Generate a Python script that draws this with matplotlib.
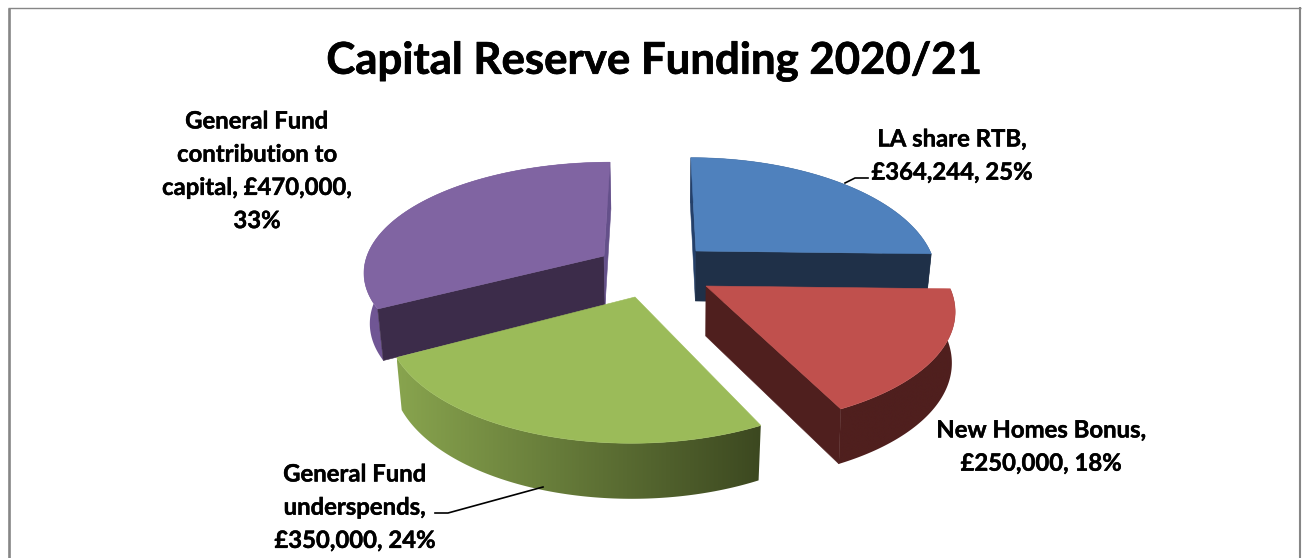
import numpy as np
import matplotlib
matplotlib.use("Agg")
import matplotlib.pyplot as plt
import matplotlib.patheffects as pe
from matplotlib.colors import LinearSegmentedColormap
from matplotlib.patches import Polygon

TITLE = "Capital Reserve Funding 2020/21"
categories = ["LA share RTB", "New Homes Bonus", "General Fund underspends",
              "General Fund contribution to capital"]
amounts = [364244, 250000, 350000, 470000]
percents = [25, 18, 24, 33]

W, H = 1306, 558
plt.rcParams["font.family"] = ["Lato", "DejaVu Sans"]
fig = plt.figure(figsize=(W / 100, H / 100), dpi=100, facecolor="white")
ax = fig.add_axes([0, 0, 1, 1])

# Perspective settings for the tilted disc
DEPTH = 50


def project(theta, s):
    """Map a disc angle (clockwise from the back) to the top surface."""
    w = 1 + s["tilt"] * np.cos(theta)
    x = s["vanish"] + (s["apex"][0] - s["vanish"] + s["rx"] * np.sin(theta)) / w
    y = s["apex"][1] - s["ry"] * np.cos(theta) / w
    return x, y


def drop(x, y, theta, s):
    """Lower a top-surface point to the bottom of the disc."""
    w = 1 + 0.5 * s["tilt"] * np.cos(theta)
    return s["vanish"] + (x - s["vanish"]) * (1 - s["squeeze"]), y + DEPTH / w


# Exploded-slice placement: colours and per-slice projection
slices = {
    "LA share RTB": dict(apex=(696, 251), vanish=665, rx=234, ry=112, tilt=0.2, squeeze=0.02,
                         top="#4f81bd", side=["#1f3048", "#1f3048"],
                         start_face="#24406a", end_face="#1f3048", z=2),
    "New Homes Bonus": dict(apex=(706, 286), vanish=680, rx=243, ry=112, tilt=0.2, squeeze=0.012,
                            top="#c0504d", side=["#4f1f1e", "#4f1f1e"],
                            start_face=None, end_face="#4f1f1e", z=3),
    "General Fund underspends": dict(apex=(635, 297), vanish=650, rx=243, ry=117, tilt=0.2,
                                     squeeze=0.02, top="#9bbb59", side=["#88a44e", "#3c4820"],
                                     start_face=None, end_face=None, z=4),
    "General Fund contribution to capital": dict(apex=(604, 256), vanish=656, rx=237, ry=106,
                                                 tilt=0.13, squeeze=0.02, top="#8064a2",
                                                 side=["#705694", "#705694"],
                                                 start_face="#3c2c4a", end_face="#64508a", z=1),
}

edges = np.concatenate([[0], np.cumsum(amounts)]) / np.sum(amounts) * 2 * np.pi

for name, start, end in zip(categories, edges[:-1], edges[1:]):
    s = slices[name]
    th = np.linspace(start, end, 200)
    x, y = project(th, s)
    xb, yb = drop(x, y, th, s)
    a0 = np.array(s["apex"], float)
    a0bx, a0by = drop(a0[0], a0[1], np.pi / 2, s)

    # outer rim: a horizontal colour ramp clipped to the rim outline
    cmap = LinearSegmentedColormap.from_list("rim", s["side"])
    ramp = np.linspace(0, 1, 256)[None, :]
    outline = np.column_stack([np.r_[x, xb[::-1]], np.r_[y, yb[::-1]]])
    xlo, xhi = outline[:, 0].min(), outline[:, 0].max()
    ylo, yhi = outline[:, 1].min(), outline[:, 1].max()
    im = ax.imshow(ramp, cmap=cmap, extent=(xlo, xhi, yhi, ylo), aspect="auto",
                   interpolation="bilinear", zorder=s["z"])
    im.set_clip_path(Polygon(outline, closed=True, transform=ax.transData))

    # straight cut faces
    if s["start_face"]:
        ax.add_patch(Polygon([(x[0], y[0]), (xb[0], yb[0]), (a0bx, a0by), a0], closed=True,
                             fc=s["start_face"], ec=s["start_face"], lw=0.4, zorder=s["z"] + 0.1))
    if s["end_face"]:
        ax.add_patch(Polygon([(x[-1], y[-1]), (xb[-1], yb[-1]), (a0bx, a0by), a0], closed=True,
                             fc=s["end_face"], ec=s["end_face"], lw=0.4, zorder=s["z"] + 0.1))

    # top surface
    ax.add_patch(Polygon(np.column_stack([np.r_[a0[0], x], np.r_[a0[1], y]]), closed=True,
                         fc=s["top"], ec=s["top"], lw=0.4, zorder=s["z"] + 0.5))

ax.set_xlim(0, W)
ax.set_ylim(H, 0)
ax.axis("off")

# Chart frame: open at the bottom edge
FRAME = "#868686"
ax.plot([9, 9], [H, 7.5], color=FRAME, lw=1.9, solid_capstyle="butt", zorder=0)
ax.plot([8, 1301], [7.5, 7.5], color=FRAME, lw=1.0, solid_capstyle="butt", zorder=0)
ax.plot([1300, 1300], [7, H], color=FRAME, lw=1.5, solid_capstyle="butt", zorder=0)

# A fine outline gives the lettering the heavier bold weight
heavy_title = [pe.withStroke(linewidth=0.5, foreground="black")]
heavy_label = [pe.withStroke(linewidth=0.3, foreground="black")]

ax.text(654, 61, TITLE, ha="center", va="center", fontsize=31.5, fontweight="bold",
        color="black", zorder=10, path_effects=heavy_title)


def money(v):
    return f"£{v:,}"


label_lines = [
    ["LA share RTB,", f"{money(amounts[0])}, {percents[0]}%"],
    ["New Homes Bonus,", f"{money(amounts[1])}, {percents[1]}%"],
    ["General Fund", "underspends,", f"{money(amounts[2])}, {percents[2]}%"],
    ["General Fund", "contribution to", f"capital, {money(amounts[3])},", f"{percents[3]}%"],
]
label_x = [952, 1041, 355, 257]
label_y = [139, 430, 474, 121]
LINE_STEP = 33.2

for lines, lx, ly in zip(label_lines, label_x, label_y):
    for i, line in enumerate(lines):
        ax.text(lx, ly + i * LINE_STEP, line, ha="center", va="center", fontsize=17.2,
                fontweight="bold", color="black", zorder=10, path_effects=heavy_label)

# Leader lines
leader_a = ([845, 855, 868], [183, 178, 178])
leader_b = ([543, 448, 435], [487, 513, 513])
for lx, ly in (leader_a, leader_b):
    ax.plot(lx, ly, color="black", lw=1.2, zorder=6, solid_joinstyle="round")

fig.savefig("out.png", dpi=100, facecolor="white")
